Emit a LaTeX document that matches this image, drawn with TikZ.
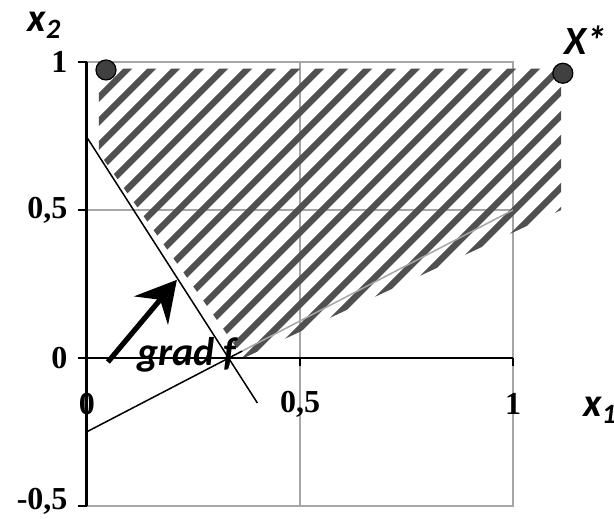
\documentclass[tikz,border=0pt]{standalone}
\usepackage{fontspec}
\setmainfont{Liberation Serif}
\newfontfamily\calfont{Carlito}
\usetikzlibrary{arrows.meta}
\definecolor{gridgray}{HTML}{A6A6A6}
\definecolor{hatchgray}{HTML}{505050}
\definecolor{dotgray}{HTML}{404040}
\tikzset{
grid line/.style={gridgray, line width=1pt},
axis line/.style={black, line width=1pt},
limit line/.style={black, line width=0.75pt},
tick label/.style={font=\fontsize{16}{16}\selectfont\bfseries, inner sep=0pt},
var label/.style={font=\fontsize{20}{20}\selectfont\calfont\bfseries\itshape, inner sep=0pt},
hatch stripe/.style={hatchgray, line width=3.2pt},
opt point/.style={circle, draw=black, fill=dotgray, line width=0.6pt, minimum size=10pt, inner sep=0pt},
}

\begin{document}
\begin{tikzpicture}[x=213pt, y=148pt]
\useasboundingbox (-43.5pt,-80pt) rectangle (263.5pt,179pt);

\draw[grid line] (0,-0.5) rectangle (1,1);
\draw[grid line] (0.5,-0.5) -- (0.5,1);
\draw[grid line] (0,0.5) -- (1,0.5);

\begin{scope}
\clip (0.028,0.978) -- (1.113,0.978) -- (1.113,0.50) -- (0.368,0) -- (0.028,0.693) -- cycle;
\foreach \k in {-22,...,10}
  \draw[hatch stripe] (-20pt,{(8.3+12*\k)*1pt}) -- ++(300pt,300pt);
\end{scope}

\draw[line width=1.5pt] (0,-0.5) -- (0,1);
\foreach \y in {-0.5,0,0.5,1}
  \draw[axis line] (0,\y) -- ++(-4.5pt,0);
\draw[axis line] (0,0) -- (1,0);
\foreach \x in {0.5,1}
  \draw[axis line] (\x,0) -- ++(0,-4pt);

\node[tick label, anchor=east] (ya) at (-0.045,1) {1};
\node[tick label, anchor=east] (yb) at (-0.045,0.5) {0,5};
\node[tick label, anchor=east] (yc) at (-0.045,0) {0};
\node[tick label, anchor=east] (yd) at ([yshift=2.5pt]-0.045,-0.5) {-0,5};
\node[tick label] (xa) at (0,-0.155) {0};
\node[tick label] (xb) at (0.5,-0.155) {0,5};
\node[tick label] (xc) at (1,-0.155) {1};

\coordinate (A1) at (0,0.745);
\coordinate (A2) at (0.4,-0.152);
\coordinate (B1) at (0,-0.249);
\coordinate (B2) at (0.365,0.024);
\coordinate (B3) at (1,0.5);
\draw[limit line] (A1) -- (A2);
\draw[limit line] (B1) -- (B2);
\draw[gridgray, line width=0.75pt] (B2) -- (B3);

\coordinate (G1) at (0.049,-0.0135);
\coordinate (G2) at (0.211,0.264);
\draw[line width=2.6pt, -{Stealth[length=20pt, width=22pt, inset=7pt]}] (G1) -- (G2);

\node[opt point] (P) at (0.0446,0.973) {};
\node[opt point] (Xs) at (1.117,0.962) {};

\node[var label, anchor=base west] (grad) at (25pt,-4pt) {grad f};
\node[var label] (xtwo) at (-21.5pt,166.5pt) {x\raisebox{-0.35ex}{\fontsize{14}{14}\selectfont 2}};
\node[var label] (xstar) at (249pt,159pt) {X*};
\node[var label, anchor=west] (xone) at (248pt,-26pt) {x\raisebox{-0.35ex}{\fontsize{14}{14}\selectfont 1}};
\end{tikzpicture}
\end{document}
